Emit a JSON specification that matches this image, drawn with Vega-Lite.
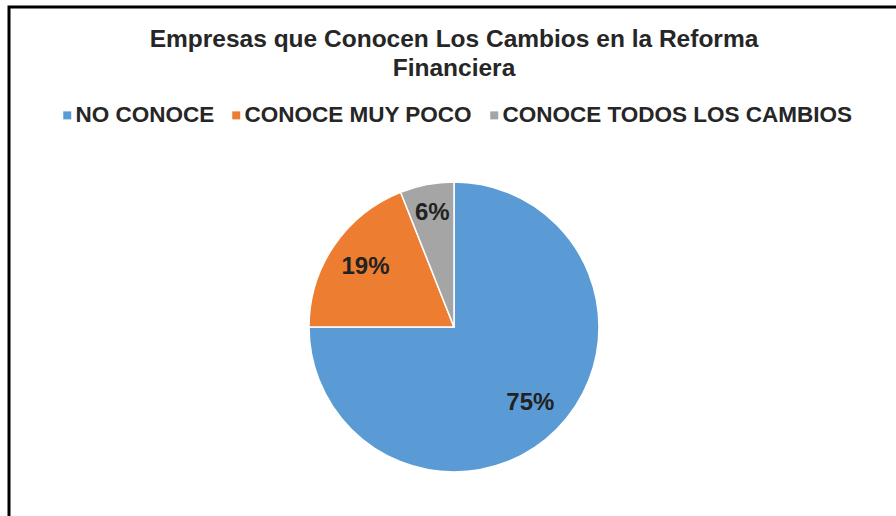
{
  "$schema": "https://vega.github.io/schema/vega-lite/v6.json",
  "width": 890,
  "height": 640,
  "autosize": {"type": "none"},
  "padding": {"left": 9, "top": 7, "right": 0, "bottom": 0},
  "background": "white",
  "config": {
    "view": {"stroke": null},
    "font": "Liberation Sans"
  },
  "title": {
    "text": ["Empresas que Conocen Los Cambios en la Reforma", "Financiera"],
    "fontSize": 24.5,
    "fontWeight": "bold",
    "color": "#262626",
    "anchor": "middle",
    "frame": "group",
    "orient": "top",
    "offset": -76,
    "lineHeight": 29
  },
  "data": {
    "values": [
      {"cat": "NO CONOCE", "value": 0.75, "orden": 1},
      {"cat": "CONOCE MUY POCO", "value": 0.19, "orden": 2},
      {"cat": "CONOCE TODOS LOS CAMBIOS", "value": 0.06, "orden": 3}
    ]
  },
  "layer": [
    {
      "data": {"values": [{"frame": 1}]},
      "mark": {"type": "rect", "fill": "transparent", "stroke": "black", "strokeWidth": 3},
      "encoding": {
        "x": {"value": 0},
        "x2": {"value": "width"},
        "y": {"value": 0},
        "y2": {"value": "height"}
      }
    },
    {
      "mark": {"type": "arc", "outerRadius": 145, "stroke": "white", "strokeWidth": 1.5},
      "encoding": {
        "theta": {"field": "value", "type": "quantitative", "stack": true},
        "order": {"field": "orden", "type": "quantitative"},
        "color": {
          "field": "cat",
          "type": "nominal",
          "scale": {
            "domain": ["NO CONOCE", "CONOCE MUY POCO", "CONOCE TODOS LOS CAMBIOS"],
            "range": ["#5B9BD5", "#ED7D31", "#A5A5A5"]
          },
          "legend": {
            "orient": "none",
            "legendX": 47,
            "legendY": 97,
            "direction": "horizontal",
            "title": null,
            "symbolType": "square",
            "symbolSize": 64,
            "symbolStrokeWidth": 0,
            "labelFont": "Liberation Sans",
            "labelFontSize": 22.5,
            "labelFontWeight": "bold",
            "labelColor": "#262626",
            "labelOffset": -3,
            "columnPadding": 10,
            "labelLimit": 500
          }
        }
      }
    },
    {
      "mark": {"type": "text", "radius": 108, "fontSize": 24, "fontWeight": "bold", "color": "#222222"},
      "encoding": {
        "theta": {"field": "value", "type": "quantitative", "stack": true},
        "order": {"field": "orden", "type": "quantitative"},
        "text": {"condition": {"test": "datum.cat === 'NO CONOCE'", "field": "value", "type": "quantitative", "format": ".0%"}, "value": ""}
      }
    },
    {
      "mark": {"type": "text", "radius": 107, "fontSize": 24, "fontWeight": "bold", "color": "#222222"},
      "encoding": {
        "theta": {"field": "value", "type": "quantitative", "stack": true},
        "order": {"field": "orden", "type": "quantitative"},
        "text": {"condition": {"test": "datum.cat === 'CONOCE MUY POCO'", "field": "value", "type": "quantitative", "format": ".0%"}, "value": ""}
      }
    },
    {
      "mark": {"type": "text", "radius": 116, "fontSize": 24, "fontWeight": "bold", "color": "#222222"},
      "encoding": {
        "theta": {"field": "value", "type": "quantitative", "stack": true},
        "order": {"field": "orden", "type": "quantitative"},
        "text": {"condition": {"test": "datum.cat === 'CONOCE TODOS LOS CAMBIOS'", "field": "value", "type": "quantitative", "format": ".0%"}, "value": ""}
      }
    }
  ]
}
